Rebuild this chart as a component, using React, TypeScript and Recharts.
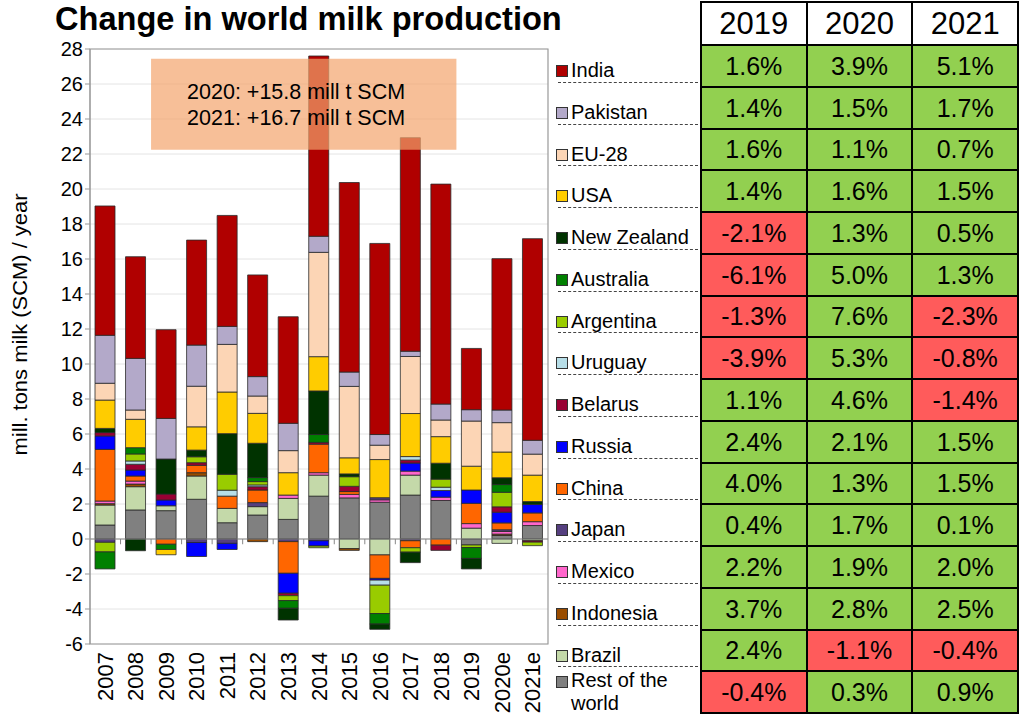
import React from 'react';
import { BarChart, Bar, XAxis, YAxis, CartesianGrid, ReferenceLine, ReferenceArea } from 'recharts';

const years = ['2007', '2008', '2009', '2010', '2011', '2012', '2013', '2014', '2015', '2016', '2017', '2018', '2019', '2020e', '2021e'];

// mill. t SCM change per year, per country (2007 .. 2021e)
const restOfWorld = [0.8, 1.66, 1.62, 2.27, 0.93, 1.37, 1.12, 2.45, 2.35, 2.1, 2.51, 2.2, -0.34, 0.2, 0.77];
const brazil = [1.14, 1.33, 0.28, 1.33, 0.82, 0.48, 1.2, 1.2, -0.55, -0.91, 1.14, 0, 0.62, -0.25, -0.1];
const indonesia = [0.08, 0.15, 0, 0.19, 0, -0.15, 0, 0, -0.1, 0, 0, 0, 0, 0.08, 0];
const mexico = [0.15, 0.17, 0, 0, 0, 0, 0.19, 0.14, 0.2, 0.14, 0.23, 0.19, 0.26, 0.15, 0.22];
const japan = [-0.19, 0, 0, -0.2, -0.25, 0.23, -0.15, -0.1, 0, 0.12, -0.1, 0, 0, 0.1, 0];
const china = [2.95, 0.29, -0.3, 0.42, 0.7, 0.72, -1.81, 1.63, 0.16, -1.34, -0.4, -0.35, 1.16, 0.39, 0.5];
const russia = [0.77, 0.34, 0.33, -0.8, -0.35, 0, -1.14, -0.3, 0, -0.1, 0.46, 0.38, 0.76, 0.61, 0.48];
const belarus = [0.19, 0.33, 0.34, 0.15, 0, 0.19, -0.14, 0.1, 0.3, 0, 0.17, -0.3, 0, 0.31, -0.08];
const uruguay = [0, 0.19, 0, 0, 0.34, 0.1, 0, 0, 0, -0.29, 0.2, 0.19, 0, 0, 0];
const argentina = [-0.55, 0.4, 0, 0.34, 0.91, 0.19, -0.28, -0.1, 0.55, -1.62, -0.25, 0.46, -0.15, 0.83, -0.2];
const australia = [-0.97, 0.36, -0.3, 0, 0, 0.23, -0.44, 0.45, 0, -0.6, 0, 0, -0.62, 0.44, 0];
const newZealand = [0.24, -0.67, 2.0, 0.38, 2.32, 1.96, -0.67, 2.49, 0.16, -0.3, -0.6, 0.91, -0.6, 0.39, 0.17];
const usa = [1.62, 1.62, -0.3, 1.33, 2.38, 1.71, 1.28, 1.96, 0.92, 2.18, 2.46, 1.52, 1.36, 1.47, 1.51];
const eu28 = [0.96, 0.53, 0, 2.32, 2.72, 0.99, 1.26, 5.96, 4.08, 0.82, 3.26, 0.95, 2.58, 1.68, 1.2];
const pakistan = [2.74, 2.95, 2.32, 2.35, 1.03, 1.11, 1.56, 0.92, 0.82, 0.61, 0.3, 0.91, 0.65, 0.72, 0.79];
const india = [7.39, 5.81, 5.07, 6.0, 6.34, 5.81, 6.09, 10.3, 10.83, 10.92, 12.2, 12.57, 3.5, 8.65, 11.52];

const yTicks = [-6, -4, -2, 0, 2, 4, 6, 8, 10, 12, 14, 16, 18, 20, 22, 24, 26, 28];

// stacking order (bottom to top)
const seriesNames = ['Rest of the world', 'Brazil', 'Indonesia', 'Mexico', 'Japan', 'China', 'Russia', 'Belarus', 'Uruguay', 'Argentina', 'Australia', 'New Zealand', 'USA', 'EU-28', 'Pakistan', 'India'];
const seriesValues = [restOfWorld, brazil, indonesia, mexico, japan, china, russia, belarus, uruguay, argentina, australia, newZealand, usa, eu28, pakistan, india];
const seriesColors = ['#808080', '#C4D9A9', '#994C00', '#FF66CC', '#553F7F', '#FF6600', '#0000FF', '#990033', '#B7DEE8', '#99CC00', '#008000', '#003300', '#FFCC00', '#FCD5B5', '#B3A9C9', '#B00000'];

// table (legend order, top to bottom)
const legendOrder = ['India', 'Pakistan', 'EU-28', 'USA', 'New Zealand', 'Australia', 'Argentina', 'Uruguay', 'Belarus', 'Russia', 'China', 'Japan', 'Mexico', 'Indonesia', 'Brazil', 'Rest of the world'];
const tableYears = ['2019', '2020', '2021'];
const growth2019 = [1.6, 1.4, 1.6, 1.4, -2.1, -6.1, -1.3, -3.9, 1.1, 2.4, 4.0, 0.4, 2.2, 3.7, 2.4, -0.4];
const growth2020 = [3.9, 1.5, 1.1, 1.6, 1.3, 5.0, 7.6, 5.3, 4.6, 2.1, 1.3, 1.7, 1.9, 2.8, -1.1, 0.3];
const growth2021 = [5.1, 1.7, 0.7, 1.5, 0.5, 1.3, -2.3, -0.8, -1.4, 1.5, 1.5, 0.1, 2.0, 2.5, -0.4, 0.9];

const annotationLines = ['2020: +15.8 mill t SCM', '2021: +16.7 mill t SCM'];

const data = years.map((y, i) => {
  const row: Record<string, any> = { year: y };
  seriesNames.forEach((n, k) => {
    row[n] = seriesValues[k][i];
  });
  return row;
});

const FONT = '"Liberation Sans", Arial, Helvetica, sans-serif';

const XTick = (props: any) => {
  const { x, y, payload } = props;
  return (
    <text
      x={x}
      y={y}
      transform={`rotate(-90 ${x} ${y})`}
      textAnchor="end"
      dominantBaseline="central"
      fontSize={22}
      fontFamily={FONT}
      fill="#000"
    >
      {payload.value}
    </text>
  );
};

const AnnotationLabel = (props: any) => {
  const vb = props.viewBox || {};
  const x = (vb.x || 0) + 36;
  const y = (vb.y || 0);
  return (
    <g>
      {annotationLines.map((t, i) => (
        <text key={i} x={x} y={y + 33 + i * 26} dominantBaseline="central" fontSize={21.5} fontFamily={FONT} fill="#000">
          {t}
        </text>
      ))}
    </g>
  );
};

const YLabel = (props: any) => {
  const vb = props.viewBox || {};
  const cy = (vb.y || 0) + (vb.height || 0) / 2 - 22;
  const cx = 20;
  return (
    <text
      x={cx}
      y={cy}
      transform={`rotate(-90 ${cx} ${cy})`}
      textAnchor="middle"
      dominantBaseline="central"
      fontSize={19.5}
      textLength={262}
      lengthAdjust="spacingAndGlyphs"
      fontFamily={FONT}
      fill="#000"
    >
      mill. tons milk (SCM) / year
    </text>
  );
};

const ROW_TOP = 44;
const ROW_H = 41.75;

export default function App() {
  const growth = [growth2019, growth2020, growth2021];
  return (
    <div style={{ position: 'absolute', left: 0, top: 0, width: 1020, height: 717, background: '#fff', fontFamily: FONT, overflow: 'hidden' }}>
      <div style={{ position: 'absolute', left: 55, top: 5, fontSize: 32.6, fontWeight: 'bold', color: '#000', whiteSpace: 'nowrap', lineHeight: '28px' }}>
        Change in world milk production
      </div>
      <div style={{ position: 'absolute', left: 0, top: 0 }}>
        <BarChart
          width={560}
          height={717}
          data={data}
          stackOffset="sign"
          barSize={20}
          margin={{ top: 49, right: 12, bottom: 0, left: 40 }}
        >
          <CartesianGrid vertical={false} stroke="#E4E4E4" />
          <XAxis dataKey="year" height={73} axisLine={false} tickLine={false} tick={<XTick />} interval={0} />
          <YAxis
            type="number"
            domain={[-6, 28]}
            ticks={yTicks}
            interval={0}
            width={50}
            axisLine={{ stroke: '#999' }}
            tickLine={{ stroke: '#999' }}
            tickSize={5}
            tick={{ fontSize: 20, fill: '#000', fontFamily: FONT }}
            label={<YLabel />}
          />
          {seriesNames.map((n, k) => (
            <Bar key={n} dataKey={n} stackId="s" fill={seriesColors[k]} stroke="#2a2a2a" strokeWidth={0.8} isAnimationActive={false} />
          ))}
          <ReferenceLine y={0} stroke="#888" strokeWidth={1} />
          {years.slice(1).map((y) => (
            <ReferenceLine
              key={`tick-${y}`}
              segment={[{ x: y, y: 0 }, { x: y, y: -0.3 }]}
              position="start"
              stroke="#888"
              strokeWidth={1}
              ifOverflow="visible"
            />
          ))}
          <ReferenceArea y1={-6} y2={28} fill="none" stroke="#999" strokeWidth={1.2} ifOverflow="visible" />
          <ReferenceArea
            x1="2009"
            x2="2018"
            y1={22.25}
            y2={27.45}
            fill="#F4A46C"
            fillOpacity={0.7}
            stroke="none"
            ifOverflow="visible"
            zIndex={800}
            label={<AnnotationLabel />}
          />
        </BarChart>
      </div>

      {/* legend */}
      {legendOrder.map((name, i) => {
        const k = seriesNames.indexOf(name);
        const top = ROW_TOP + i * ROW_H;
        const twoLine = name === 'Rest of the world';
        return (
          <div key={name} style={{ position: 'absolute', left: 548, top, width: 152, height: ROW_H }}>
            <div style={{ position: 'absolute', left: 8, top: twoLine ? 6 : 21, width: 10, height: 10, background: seriesColors[k], border: '1px solid #333' }} />
            <div style={{ position: 'absolute', left: 23, top: twoLine ? -1 : 14, fontSize: 20, lineHeight: twoLine ? '23px' : '24px', color: '#000', whiteSpace: 'nowrap' }}>
              {twoLine ? (<>Rest of the<br />world</>) : name}
            </div>
            {!twoLine && (
              <div style={{ position: 'absolute', left: 10, right: 2, bottom: 3, borderTop: '1px dashed #444' }} />
            )}
          </div>
        );
      })}

      {/* table */}
      <table
        style={{
          position: 'absolute',
          left: 700,
          top: 1,
          width: 319,
          borderCollapse: 'collapse',
          tableLayout: 'fixed',
          fontFamily: FONT,
        }}
      >
        <tbody>
          <tr style={{ height: 43 }}>
            {tableYears.map((y) => (
              <td key={y} style={{ border: '2px solid #000', background: '#fff', textAlign: 'center', fontSize: 31, padding: 0, lineHeight: '38px' }}>
                {y}
              </td>
            ))}
          </tr>
          {legendOrder.map((name, i) => (
            <tr key={name} style={{ height: ROW_H }}>
              {growth.map((g, c) => {
                const v = g[i];
                return (
                  <td
                    key={c}
                    style={{
                      border: '2px solid #000',
                      background: v < 0 ? '#FF5B5B' : '#92D050',
                      textAlign: 'center',
                      fontSize: 25,
                      padding: 0,
                      lineHeight: '36px',
                      color: '#000',
                    }}
                  >
                    {v.toFixed(1)}%
                  </td>
                );
              })}
            </tr>
          ))}
        </tbody>
      </table>
    </div>
  );
}
